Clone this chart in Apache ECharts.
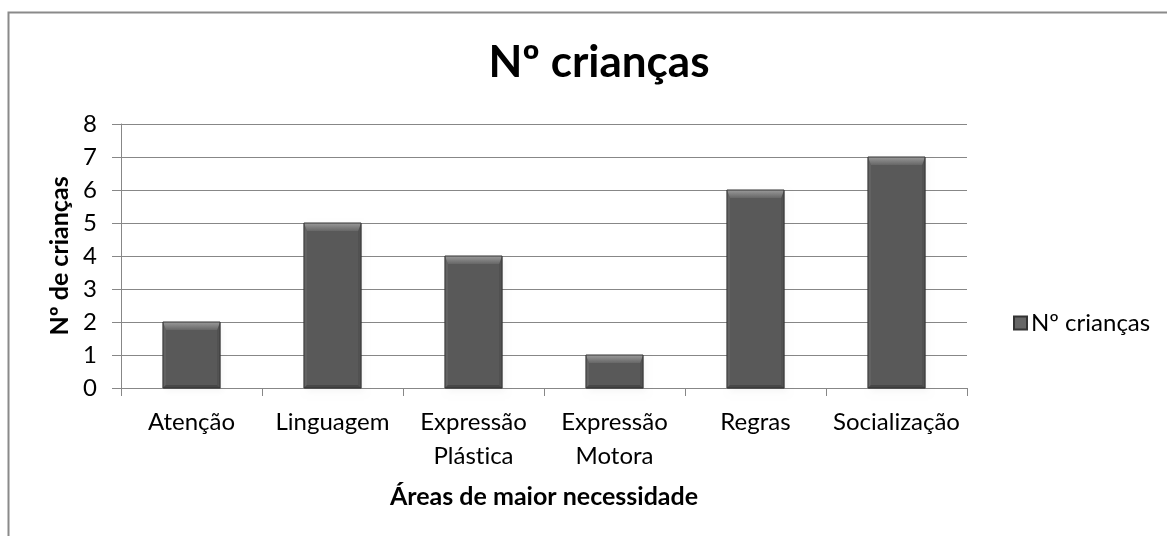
<!DOCTYPE html>
<html>
<head>
<meta charset="utf-8">
<script src="https://cdn.jsdelivr.net/npm/echarts@6/dist/echarts.min.js"></script>
<style>
  html, body { margin: 0; padding: 0; background: #fff; }
  #main { width: 1167px; height: 536px; }
</style>
</head>
<body>
<div id="main"></div>
<script>
// dados do gráfico
const categories = ['Atenção', 'Linguagem', 'Expressão\nPlástica', 'Expressão\nMotora', 'Regras', 'Socialização'];
const values = [2, 5, 4, 1, 6, 7];
const seriesName = 'Nº crianças';

const FONT = 'Lato, "Open Sans", sans-serif';
const GRID = '#878787';

// barra com efeito "bevel" como no Excel
function renderBar(params, api) {
  const idx = api.value(0);
  const v = api.value(1);
  const top = api.coord([idx, v]);
  const base = api.coord([idx, 0]);
  const w = api.size([1, 0])[0] * 0.405;
  const x0 = top[0] - w / 2, x1 = top[0] + w / 2;
  const y0 = top[1], y1 = base[1];
  const b = Math.min(8, (y1 - y0) / 2);
  const s = 3; // largura do bevel lateral
  return {
    type: 'group',
    children: [
      {
        type: 'rect',
        shape: { x: x0 + 1, y: y0 + 1, width: w, height: y1 - y0 },
        style: { fill: 'rgba(0,0,0,0.12)', shadowBlur: 6, shadowColor: 'rgba(0,0,0,0.25)', shadowOffsetX: 2, shadowOffsetY: 3 }
      },
      {
        type: 'rect',
        shape: { x: x0, y: y0, width: w, height: y1 - y0 },
        style: { fill: '#595959' }
      },
      {
        type: 'polygon',
        shape: { points: [[x0, y0], [x0 + s, y0 + b], [x0 + s, y1 - s], [x0, y1]] },
        style: { fill: '#636363' }
      },
      {
        type: 'polygon',
        shape: { points: [[x1, y0], [x1, y1], [x1 - s, y1 - s], [x1 - s, y0 + b]] },
        style: { fill: '#525252' }
      },
      {
        type: 'polygon',
        shape: { points: [[x0, y1], [x0 + s, y1 - s], [x1 - s, y1 - s], [x1, y1]] },
        style: { fill: '#474747' }
      },
      {
        type: 'polygon',
        shape: { points: [[x0, y0], [x1, y0], [x1 - s, y0 + b], [x0 + s, y0 + b]] },
        style: {
          fill: new echarts.graphic.LinearGradient(0, 0, 0, 1, [
            { offset: 0, color: '#9a9a9a' },
            { offset: 1, color: '#676767' }
          ])
        }
      },
      {
        type: 'rect',
        shape: { x: x0, y: y0, width: w, height: y1 - y0 },
        style: { fill: 'none', stroke: '#333333', lineWidth: 1 }
      }
    ]
  };
}

const chart = echarts.init(document.getElementById('main'));
chart.setOption({
  animation: false,
  backgroundColor: '#fff',
  textStyle: { fontFamily: FONT },
  graphic: [{
    type: 'rect',
    shape: { x: 8.5, y: 12.5, width: 1250, height: 650 },
    style: { fill: 'none', stroke: '#8a8a8a', lineWidth: 2 },
    silent: true
  }],
  title: {
    text: 'Nº crianças',
    left: 594,
    textAlign: 'center',
    top: 36,
    textStyle: { fontFamily: FONT, fontSize: 44, fontWeight: 'bold', color: '#000' }
  },
  legend: {
    data: [seriesName],
    left: 1008,
    top: 306,
    icon: 'rect',
    itemWidth: 13,
    itemHeight: 13,
    itemGap: 10,
    textStyle: { fontFamily: FONT, fontSize: 24, color: '#000', padding: [0, 0, 0, -1] }
  },
  grid: { left: 121, right: 200, top: 124, bottom: 148 },
  xAxis: {
    type: 'category',
    data: categories,
    name: 'Áreas de maior necessidade',
    nameLocation: 'middle',
    nameGap: 96,
    nameTextStyle: { fontFamily: FONT, fontSize: 25, fontWeight: 'bold', color: '#000' },
    axisLine: { lineStyle: { color: GRID, width: 1 } },
    axisTick: { show: true, length: 8, alignWithLabel: false, lineStyle: { color: GRID } },
    axisLabel: {
      fontFamily: FONT, fontSize: 24, color: '#000', lineHeight: 34, margin: 17, interval: 0,
      // evita a ligadura "ti" do Lato
      formatter: v => v.replace('ti', 't\u200Ci')
    }
  },
  yAxis: {
    type: 'value',
    min: 0,
    max: 8,
    interval: 1,
    name: 'Nº de crianças',
    nameLocation: 'middle',
    nameGap: 48,
    nameTextStyle: { fontFamily: FONT, fontSize: 25, fontWeight: 'bold', color: '#000' },
    axisLine: { show: true, lineStyle: { color: GRID, width: 1 } },
    axisTick: { show: true, length: 9, lineStyle: { color: GRID } },
    axisLabel: { fontFamily: FONT, fontSize: 24, color: '#000', margin: 24 },
    splitLine: { show: true, lineStyle: { color: GRID, width: 1 } }
  },
  series: [{
    name: seriesName,
    type: 'custom',
    renderItem: renderBar,
    itemStyle: { color: '#666666', borderColor: '#333333', borderWidth: 1 },
    encode: { x: 0, y: 1 },
    data: categories.map((c, i) => [i, values[i]])
  }]
});
</script>
</body>
</html>
